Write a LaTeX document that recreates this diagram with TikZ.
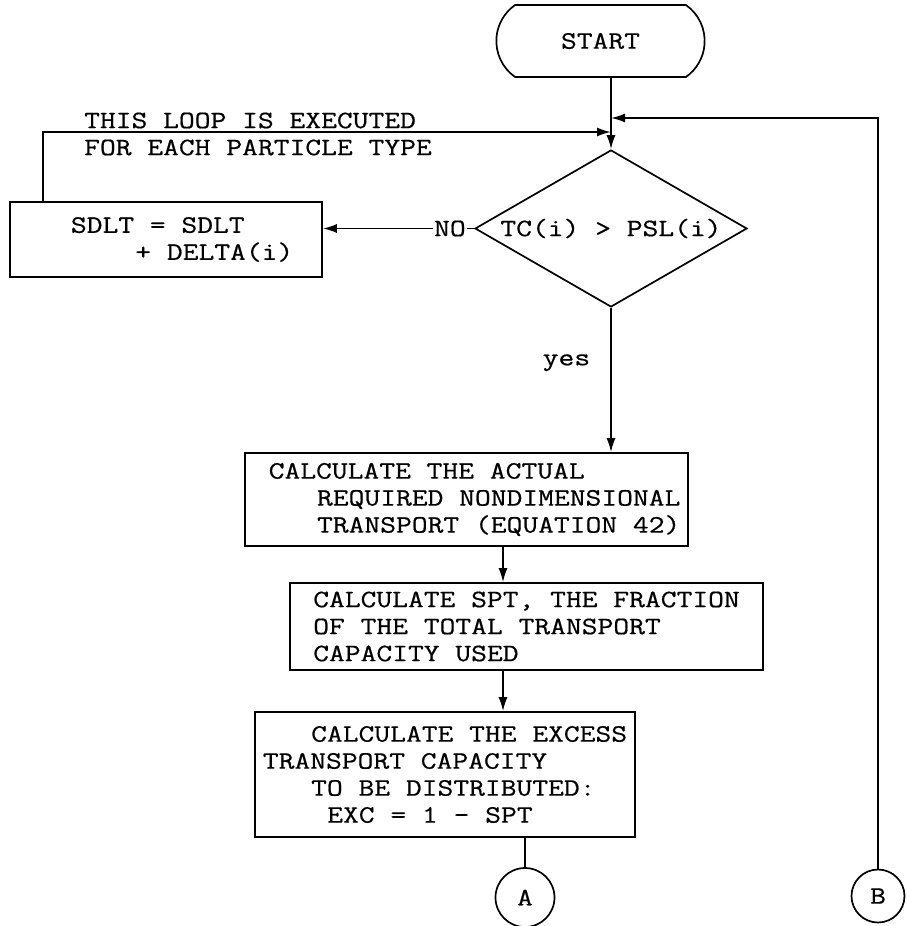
\documentclass[tikz,border=0pt]{standalone}
\usepackage{fontspec}
\newfontfamily\typew{Latin Modern Mono}[FakeStretch=1.227,FakeBold=0.6]
\usetikzlibrary{positioning,shapes.geometric,shapes.misc,arrows.meta}
\tikzset{
  every node/.style={font=\typew\fontsize{25}{27}\selectfont},
  ln/.style={line width=1.7pt},
  box/.style={draw,ln,rectangle,align=left,inner ysep=0pt},
  arr/.style={ln,-{Latex[length=14pt,width=9pt]}},
  conn/.style={draw,ln,circle,inner sep=0pt},
}
\newcommand{\pad}[1]{\hspace*{#1\dimexpr0.6442em\relax}}

\begin{document}
\begin{tikzpicture}[x=1pt,y=-1pt]
  \useasboundingbox (0,0) rectangle (906,926);
  % nodes
  \node[draw,ln,rounded rectangle,rounded rectangle arc length=110,
        minimum width=215,minimum height=72] (start) at (600.5,41) {START};
  \node[draw,ln,diamond,minimum width=272,minimum height=157,inner sep=0pt]
        (dec) at (611,228.5) {\makebox[0pt]{TC(i) > PSL(i)}};
  \node[box,minimum width=312,minimum height=75] (sdlt) at (166,239.5)
        {\pad{2}SDLT = SDLT\\\pad{6}+ DELTA(i)};
  \node[anchor=west,align=left,inner sep=0pt] (note) at (84,134)
        {THIS LOOP IS EXECUTED\\FOR EACH PARTICLE TYPE};
  \node[box,minimum width=443,minimum height=93] (act) at (466.5,499.5)
        {\pad{1}CALCULATE THE ACTUAL\\\pad{4}REQUIRED NONDIMENSIONAL\\\pad{4}TRANSPORT (EQUATION 42)};
  \node[box,minimum width=473,minimum height=87] (spt) at (526.5,626.5)
        {CALCULATE SPT, THE FRACTION\\OF THE TOTAL TRANSPORT\\CAPACITY USED};
  \node[box,minimum width=380,minimum height=125] (exc) at (445,774.5)
        {\pad{3}CALCULATE THE EXCESS\\TRANSPORT CAPACITY\\\pad{3}TO BE DISTRIBUTED:\\\pad{4}EXC = 1 - SPT};
  \node[conn,minimum size=59] (A) at (525,897.5) {A};
  \node[conn,minimum size=53] (B) at (878,896) {B};
  % junction points on the stem
  \coordinate (lj) at (611,132);
  \coordinate (rj) at (611,118);
  \coordinate (c1) at (503,0);
  % connectors
  \draw[arr] (start.south -| dec.north) -- (dec.north);
  \draw[arr] ([xshift=34]sdlt.north west) |- (lj);
  \draw[arr] (B.north) |- (rj);
  \draw[arr] (dec.west) -- node[pos=.16,fill=white,inner xsep=1pt,inner ysep=0pt]{NO} (dec.west -| sdlt.east);
  \draw[arr] (dec.south) -- node[pos=.38,left=20pt,inner sep=0pt]{yes} (dec.south |- act.north);
  \draw[arr] (act.south -| c1) -- (spt.north -| c1);
  \draw[arr] (spt.south -| c1) -- (exc.north -| c1);
  \draw[ln] (exc.south -| A) -- (A.north);
\end{tikzpicture}
\end{document}
